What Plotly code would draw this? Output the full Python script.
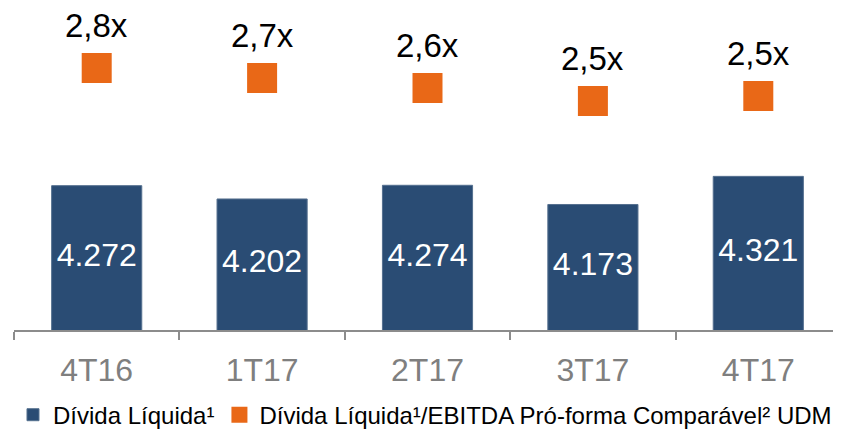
import plotly.graph_objects as go

categories = ["4T16", "1T17", "2T17", "3T17", "4T17"]
divida_liquida = [4272, 4202, 4274, 4173, 4321]
alavancagem = [2.80, 2.70, 2.60, 2.47, 2.52]

bar_name = "Dívida Líquida¹"
ratio_name = "Dívida Líquida¹/EBITDA Pró-forma Comparável² UDM"

BLUE = "#2A4C74"
ORANGE = "#E96817"
FONT = "Liberation Sans, Arial, sans-serif"

Y1_MIN, Y1_MAX = 3512.5, 5207
Y2_MIN, Y2_MAX = 0.18, 3.40

fig = go.Figure()
fig.add_trace(go.Bar(
    x=categories, y=divida_liquida, name=bar_name,
    marker=dict(color=BLUE, line=dict(width=1, color="#55708F")),
    width=0.545, textposition="none", hoverinfo="x+y",
))
# labels centred inside the visible part of each bar
fig.add_trace(go.Scatter(
    x=categories, y=[(v + Y1_MIN) / 2 for v in divida_liquida],
    mode="text", text=[f"{v:,.0f}".replace(",", ".") for v in divida_liquida],
    textposition="middle center",
    textfont=dict(size=32, color="white", family=FONT),
    showlegend=False, hoverinfo="skip",
))
fig.add_trace(go.Scatter(
    x=categories, y=alavancagem, name=ratio_name, mode="markers",
    marker=dict(symbol="square", size=30, color=ORANGE),
    yaxis="y2", cliponaxis=False,
))

for c, v in zip(categories, alavancagem):
    fig.add_annotation(
        x=c, y=v, xref="x", yref="y2", yanchor="bottom", yshift=22,
        text=f"{v:.1f}".replace(".", ",") + "x", showarrow=False,
        font=dict(size=33, color="black", family=FONT),
    )

fig.update_layout(
    width=833, height=421,
    margin=dict(l=6, r=0, t=0, b=99, autoexpand=False),
    paper_bgcolor="white", plot_bgcolor="rgba(0,0,0,0)",
    separators=",.",
    font=dict(family=FONT, color="black"),
    showlegend=True,
    legend=dict(
        orientation="h", xref="container", yref="container",
        x=0.006, y=0.033, xanchor="left", yanchor="middle",
        font=dict(size=24, color="black", family=FONT),
        itemwidth=30, traceorder="normal",
        bgcolor="rgba(0,0,0,0)",
    ),
    xaxis=dict(
        type="category", showline=True, linecolor="#8C8C8C", linewidth=1.5,
        ticks="outside", tickson="boundaries", ticklen=8, tickcolor="#8C8C8C",
        tickwidth=1.5, ticklabelstandoff=11,
        tickfont=dict(size=32, color="#7F7F7F", family=FONT),
        showgrid=False, zeroline=False,
    ),
    yaxis=dict(range=[Y1_MIN, Y1_MAX], visible=False, showgrid=False, zeroline=False),
    yaxis2=dict(range=[Y2_MIN, Y2_MAX], overlaying="y", visible=False,
                showgrid=False, zeroline=False),
)

fig.write_html("out.html")
